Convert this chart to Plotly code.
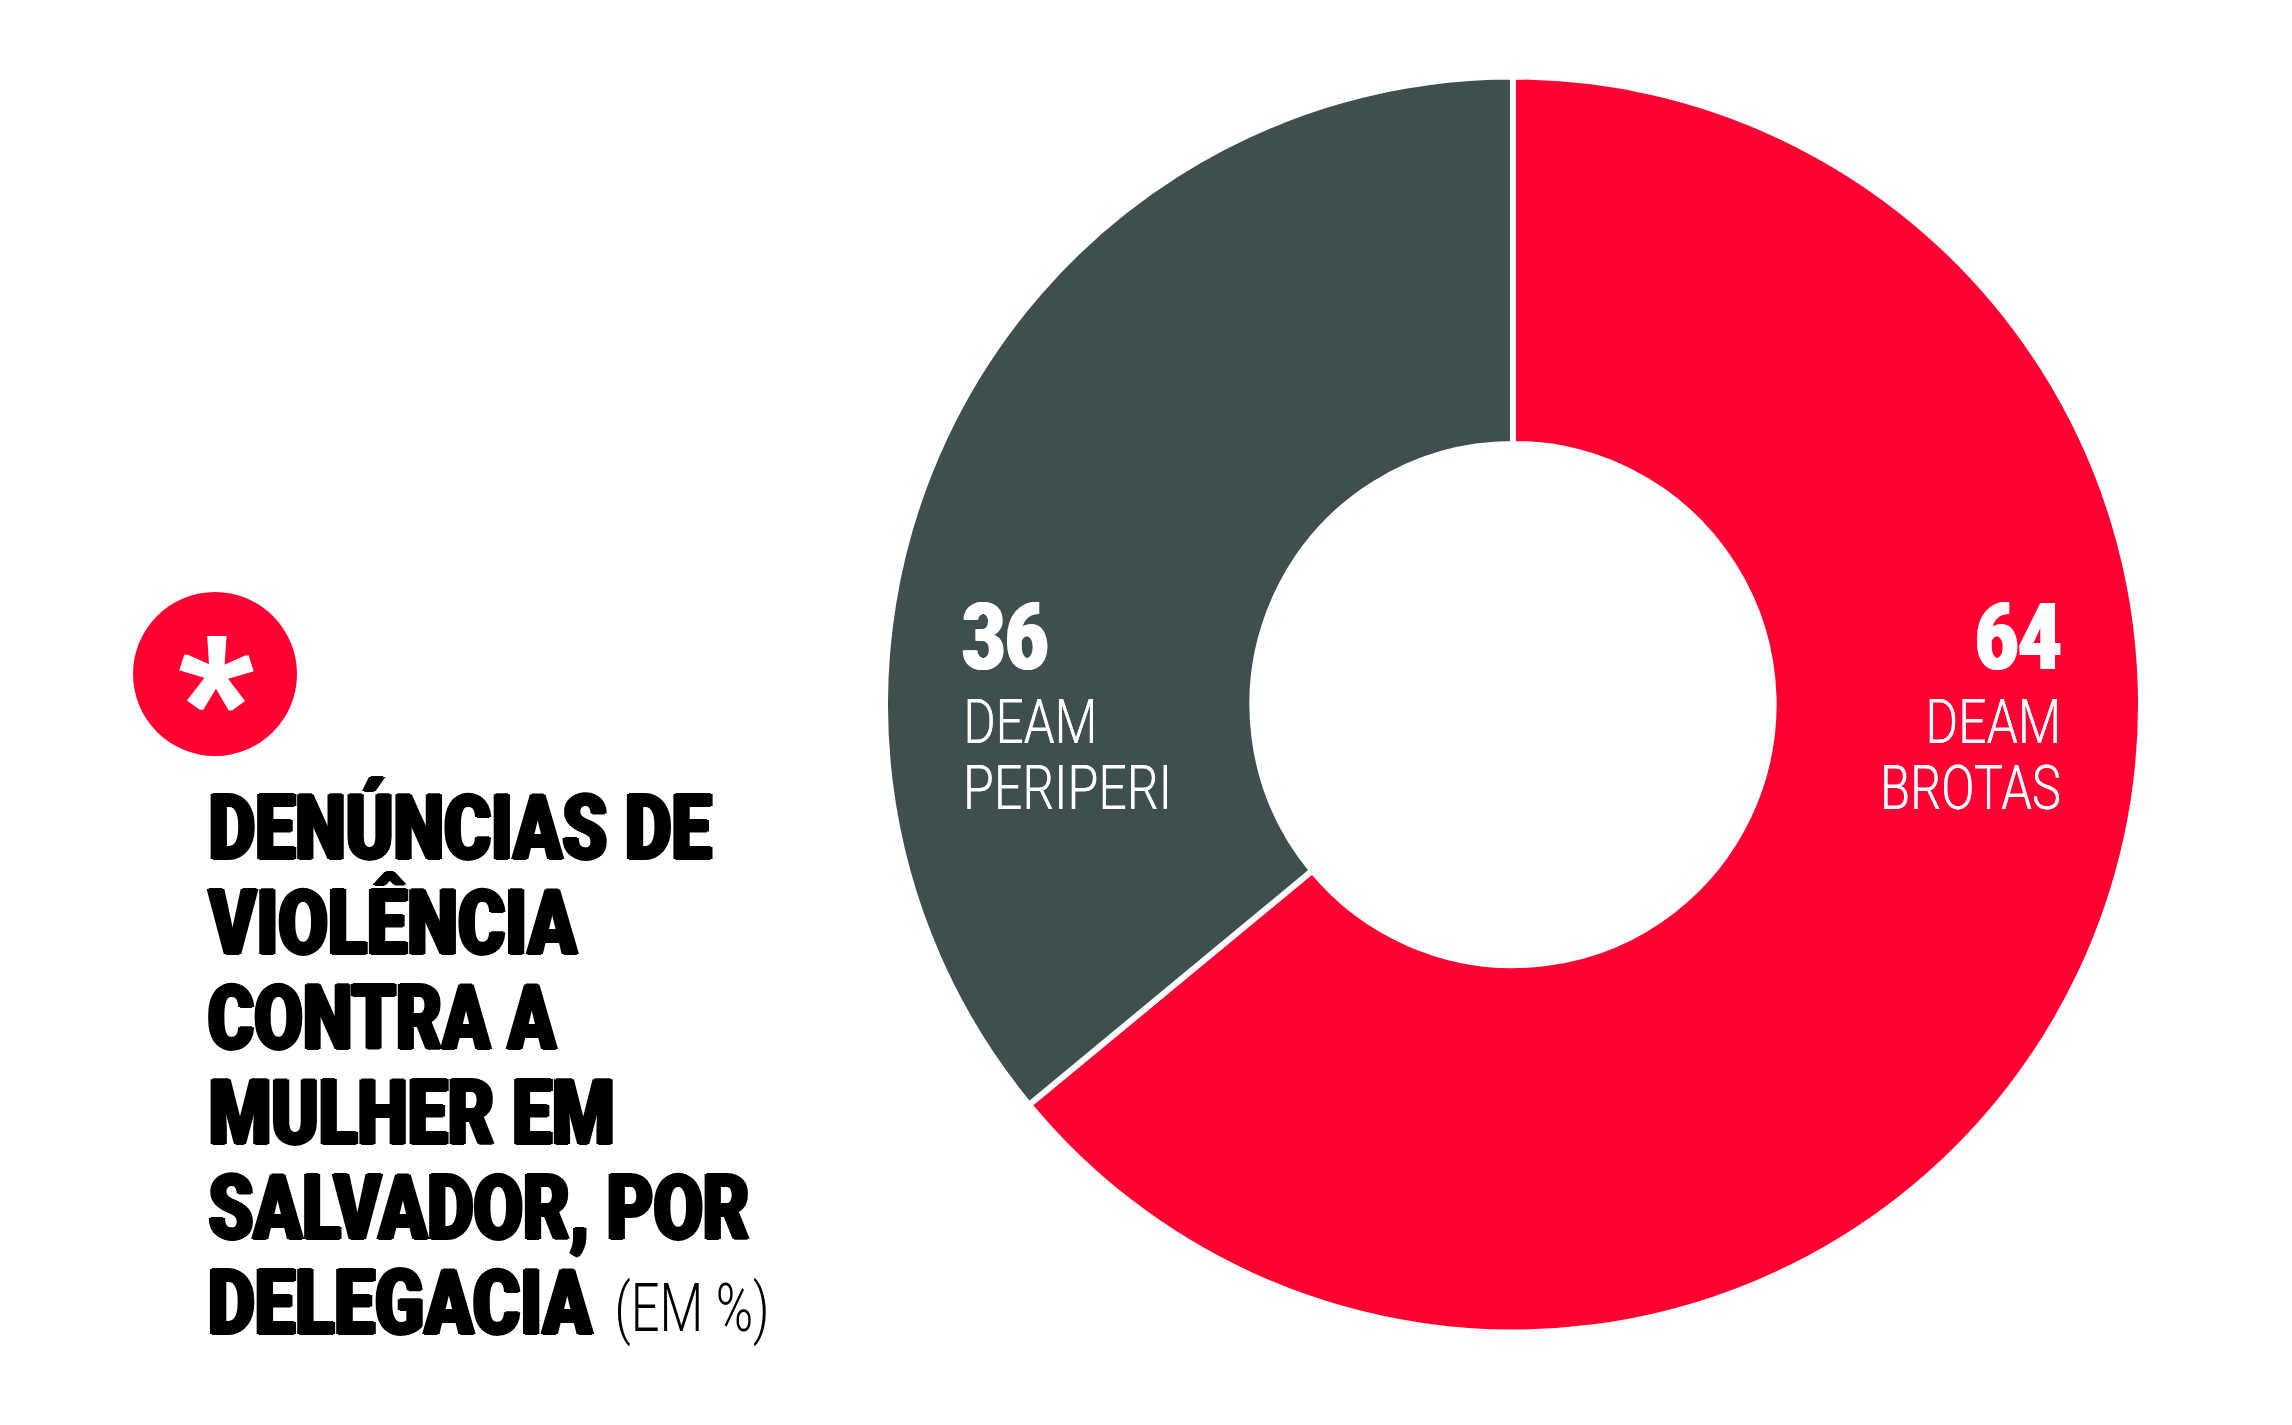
import json
import plotly.graph_objects as go

W, H = 2292, 1425
categories = ["DEAM BROTAS", "DEAM PERIPERI"]
values = [64, 36]
colors = ["#FF0033", "#3F4E4E"]
title_lines = ["DENÚNCIAS DE", "VIOLÊNCIA", "CONTRA A", "MULHER EM", "SALVADOR, POR", "DELEGACIA"]
title_widths = [503, 368, 348, 406, 541, 384]
unit = "(EM %)"

def px(x): return x / W
def py(y): return 1 - y / H

cx, cy, r = 1513, 704.5, 628
fig = go.Figure(go.Pie(
    labels=categories, values=values, hole=0.415, sort=False, direction="clockwise", rotation=0,
    marker=dict(colors=colors, line=dict(color="white", width=6)),
    textinfo="none", hoverinfo="label+value", showlegend=False,
    domain=dict(x=[px(cx - r), px(cx + r)], y=[py(cy + r), py(cy - r)]),
))

ann, fit = [], []
def text(left, width, y, s, size, color="#000", weight=400, shadow="none", family="Roboto"):
    """Text centred in a [left, left+width] box, later fitted to that width."""
    fit.append(width)
    ann.append(dict(x=px(left + width / 2), y=py(y), xref="paper", yref="paper", text=s, showarrow=False,
                    xanchor="center", yanchor="middle", align="center",
                    font=dict(size=size, family=family, color=color, weight=weight, shadow=shadow)))

heavy = "2.5px 0 0 #000, -2.5px 0 0 #000, 0 1px 0 #000, 0 -1px 0 #000"
for i, line in enumerate(title_lines):
    text(208, title_widths[i], 828 + 95 * i, line, 90, weight=900, shadow=heavy)
text(615, 155, 1308, unit, 66, weight=300)

wh = "1.5px 0 0 #fff, -1.5px 0 0 #fff"
thin = "0.4px 0 0 #fff"
text(963, 86, 637, str(values[1]), 92, "#fff", 900, wh)
text(963, 134, 721, "DEAM", 62, "#fff", 300, thin)
text(963, 209, 787, "PERIPERI", 62, "#fff", 300, thin)
text(1975, 86, 637, str(values[0]), 92, "#fff", 900, wh)
text(1925, 136, 721, "DEAM", 62, "#fff", 300, thin)
text(1880, 181, 787, "BROTAS", 62, "#fff", 300, thin)
text(178, 74, 700, "*", 170, "#fff", 900, "1.5px 0 0 #fff, -1.5px 0 0 #fff")

fig.update_layout(
    width=W, height=H, margin=dict(l=0, r=0, t=0, b=0), paper_bgcolor="white", plot_bgcolor="white",
    annotations=ann,
    shapes=[dict(type="circle", xref="paper", yref="paper", layer="below",
                 x0=px(215 - 82), x1=px(215 + 82), y0=py(674 + 82), y1=py(674 - 82),
                 fillcolor="#FF0033", line=dict(width=0))],
)
post = "document.body.style.margin='0';var w=" + json.dumps(fit) + """;
document.querySelectorAll('.annotation-text').forEach(function(t,i){
  t.setAttribute('textLength',w[i]);t.setAttribute('lengthAdjust','spacingAndGlyphs');});"""
fig.write_html("out.html", post_script=post, config={"displayModeBar": False})
